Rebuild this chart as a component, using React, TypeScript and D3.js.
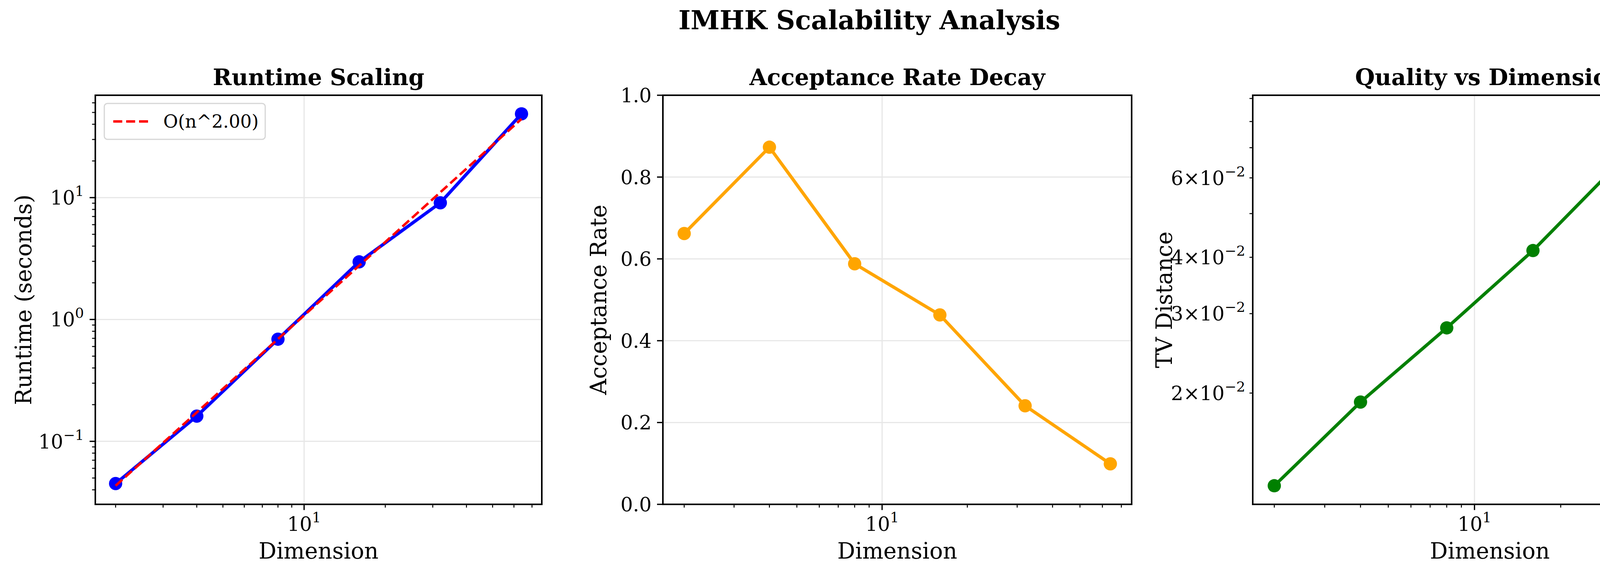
import * as d3 from 'd3'

const dims = [2, 4, 8, 16, 32, 64]
const runtimes = [0.045, 0.161, 0.689, 2.97, 9.07, 48.7]
const fitCoef = 0.0108
const fitExp = 2.0
const acceptance = [0.662, 0.873, 0.588, 0.463, 0.241, 0.099]
const tvDistance = [0.01246, 0.0191, 0.0279, 0.0414, 0.0648, 0.0832]
const accTicks = [0, 0.2, 0.4, 0.6, 0.8, 1.0]
const tvLabelled = [0.02, 0.03, 0.04, 0.06]

const W = 4451
const H = 1473
const TOP = 244
const BOTTOM = 1292
const FONT = 'DejaVu Serif, serif'
const GRID = '#e7e7e7'

function logPad(vals: number[]): [number, number] {
  const lo = Math.log10(d3.min(vals)!)
  const hi = Math.log10(d3.max(vals)!)
  const m = (hi - lo) * 0.05
  return [Math.pow(10, lo - m), Math.pow(10, hi + m)]
}

function minorLogTicks(domain: [number, number]) {
  const out: { v: number; major: boolean }[] = []
  for (let e = -4; e <= 4; e++) {
    for (let k = 1; k <= 9; k++) {
      const v = k * Math.pow(10, e)
      if (v >= domain[0] && v <= domain[1]) out.push({ v, major: k === 1 })
    }
  }
  return out
}

function Pow10({ x, y, exp, anchor }: { x: number; y: number; exp: number; anchor: string }) {
  return (
    <text x={x} y={y} textAnchor={anchor} fontSize={50} fontFamily={FONT}>
      10<tspan dy={-22} fontSize={36}>{exp < 0 ? '\u2212' + -exp : exp}</tspan>
    </text>
  )
}

interface PanelProps {
  left: number
  right: number
  title: string
  ylabel: string
  ylabelX: number
  children: (x: d3.ScaleLogarithmic<number, number>) => any
}

function Panel({ left, right, title, ylabel, ylabelX, children }: PanelProps) {
  const x = d3.scaleLog().domain(logPad(dims)).range([left, right])
  const xt = minorLogTicks(x.domain() as [number, number])
  const cx = (left + right) / 2
  return (
    <g>
      {xt.filter(t => t.major).map(t => (
        <line key={'g' + t.v} x1={x(t.v)} x2={x(t.v)} y1={TOP} y2={BOTTOM} stroke={GRID} strokeWidth={3} />
      ))}
      {children(x)}
      <rect x={left} y={TOP} width={right - left} height={BOTTOM - TOP} fill="none" stroke="#000" strokeWidth={4} />
      {xt.map(t => (
        <line key={'t' + t.v} x1={x(t.v)} x2={x(t.v)} y1={BOTTOM} y2={BOTTOM + (t.major ? 14.6 : 8.3)} stroke="#000" strokeWidth={t.major ? 3.3 : 2.5} />
      ))}
      {xt.filter(t => t.major).map(t => (
        <Pow10 key={'l' + t.v} x={x(t.v)} y={BOTTOM + 68} exp={Math.round(Math.log10(t.v))} anchor="middle" />
      ))}
      <text x={cx} y={1431} textAnchor="middle" fontSize={57} fontFamily={FONT}>Dimension</text>
      <text x={cx} y={TOP - 26} textAnchor="middle" fontSize={58} fontWeight="bold" fontFamily={FONT}>{title}</text>
      <text transform={`translate(${ylabelX},${(TOP + BOTTOM) / 2}) rotate(-90)`} textAnchor="middle" fontSize={57} fontFamily={FONT}>{ylabel}</text>
    </g>
  )
}

function Series({ x, y, vals, color }: { x: any; y: any; vals: number[]; color: string }) {
  const line = d3.line<number>().x((_, i) => x(dims[i])).y(v => y(v))
  return (
    <g>
      <path d={line(vals)!} fill="none" stroke={color} strokeWidth={8.3} strokeLinejoin="round" />
      {vals.map((v, i) => <circle key={i} cx={x(dims[i])} cy={y(v)} r={17} fill={color} />)}
    </g>
  )
}

export default function App() {
  const fitVals = dims.map(n => fitCoef * Math.pow(n, fitExp))
  const y1 = d3.scaleLog().domain(logPad([...runtimes, ...fitVals])).range([BOTTOM, TOP])
  const y1t = minorLogTicks(y1.domain() as [number, number])
  const y2 = d3.scaleLinear().domain([0, 1]).range([BOTTOM, TOP])
  const y3 = d3.scaleLog().domain(logPad(tvDistance)).range([BOTTOM, TOP])
  const y3t = minorLogTicks(y3.domain() as [number, number])
  const fitLine = (x: any) => d3.line<number>().x((_, i) => x(dims[i])).y(v => y1(v))(fitVals)!

  return (
    <svg width={W} height={H} style={{ display: 'block', position: 'absolute', left: 0, top: 0, background: '#fff' }}>
      <text x={W / 2} y={75} textAnchor="middle" fontSize={67} fontWeight="bold" fontFamily={FONT}>IMHK Scalability Analysis</text>

      <Panel left={244} right={1387} title="Runtime Scaling" ylabel="Runtime (seconds)" ylabelX={80}>
        {x => (
          <g>
            {y1t.filter(t => t.major).map(t => (
              <line key={'g' + t.v} x1={244} x2={1387} y1={y1(t.v)} y2={y1(t.v)} stroke={GRID} strokeWidth={3} />
            ))}
            <Series x={x} y={y1} vals={runtimes} color="#0000ff" />
            <path d={fitLine(x)} fill="none" stroke="#ff0000" strokeWidth={6.25} strokeDasharray="23,10" />
            {y1t.map(t => (
              <line key={'t' + t.v} x1={244} x2={244 - (t.major ? 14.6 : 8.3)} y1={y1(t.v)} y2={y1(t.v)} stroke="#000" strokeWidth={t.major ? 3.3 : 2.5} />
            ))}
            {y1t.filter(t => t.major).map(t => (
              <Pow10 key={'l' + t.v} x={215} y={y1(t.v) + 18} exp={Math.round(Math.log10(t.v))} anchor="end" />
            ))}
            <rect x={267} y={265} width={412} height={92} rx={8} fill="#fff" fillOpacity={0.8} stroke="#d6d6d6" strokeWidth={3} />
            <line x1={290} x2={382} y1={311} y2={311} stroke="#ff0000" strokeWidth={6.25} strokeDasharray="23,10" />
            <text x={418} y={327} fontSize={46} fontFamily={FONT}>O(n^2.00)</text>
          </g>
        )}
      </Panel>

      <Panel left={1697} right={2897} title="Acceptance Rate Decay" ylabel="Acceptance Rate" ylabelX={1552}>
        {x => (
          <g>
            {accTicks.map(t => (
              <line key={'g' + t} x1={1697} x2={2897} y1={y2(t)} y2={y2(t)} stroke={GRID} strokeWidth={3} />
            ))}
            <Series x={x} y={y2} vals={acceptance} color="#ffa500" />
            {accTicks.map(t => (
              <g key={'t' + t}>
                <line x1={1697} x2={1682} y1={y2(t)} y2={y2(t)} stroke="#000" strokeWidth={3.3} />
                <text x={1668} y={y2(t) + 18} textAnchor="end" fontSize={50} fontFamily={FONT}>{t.toFixed(1)}</text>
              </g>
            ))}
          </g>
        )}
      </Panel>

      <Panel left={3207} right={4421} title="Quality vs Dimension" ylabel="TV Distance" ylabelX={3000}>
        {x => (
          <g>
            <Series x={x} y={y3} vals={tvDistance} color="#008000" />
            {y3t.map(t => (
              <line key={'t' + t.v} x1={3207} x2={3207 - 8.3} y1={y3(t.v)} y2={y3(t.v)} stroke="#000" strokeWidth={2.5} />
            ))}
            {tvLabelled.map(v => (
              <text key={'l' + v} x={3188} y={y3(v) + 18} textAnchor="end" fontSize={50} fontFamily={FONT}>
                {Math.round(v * 100)}{'\u00d7'}10<tspan dy={-22} fontSize={36}>{'\u2212'}2</tspan>
              </text>
            ))}
          </g>
        )}
      </Panel>
    </svg>
  )
}
